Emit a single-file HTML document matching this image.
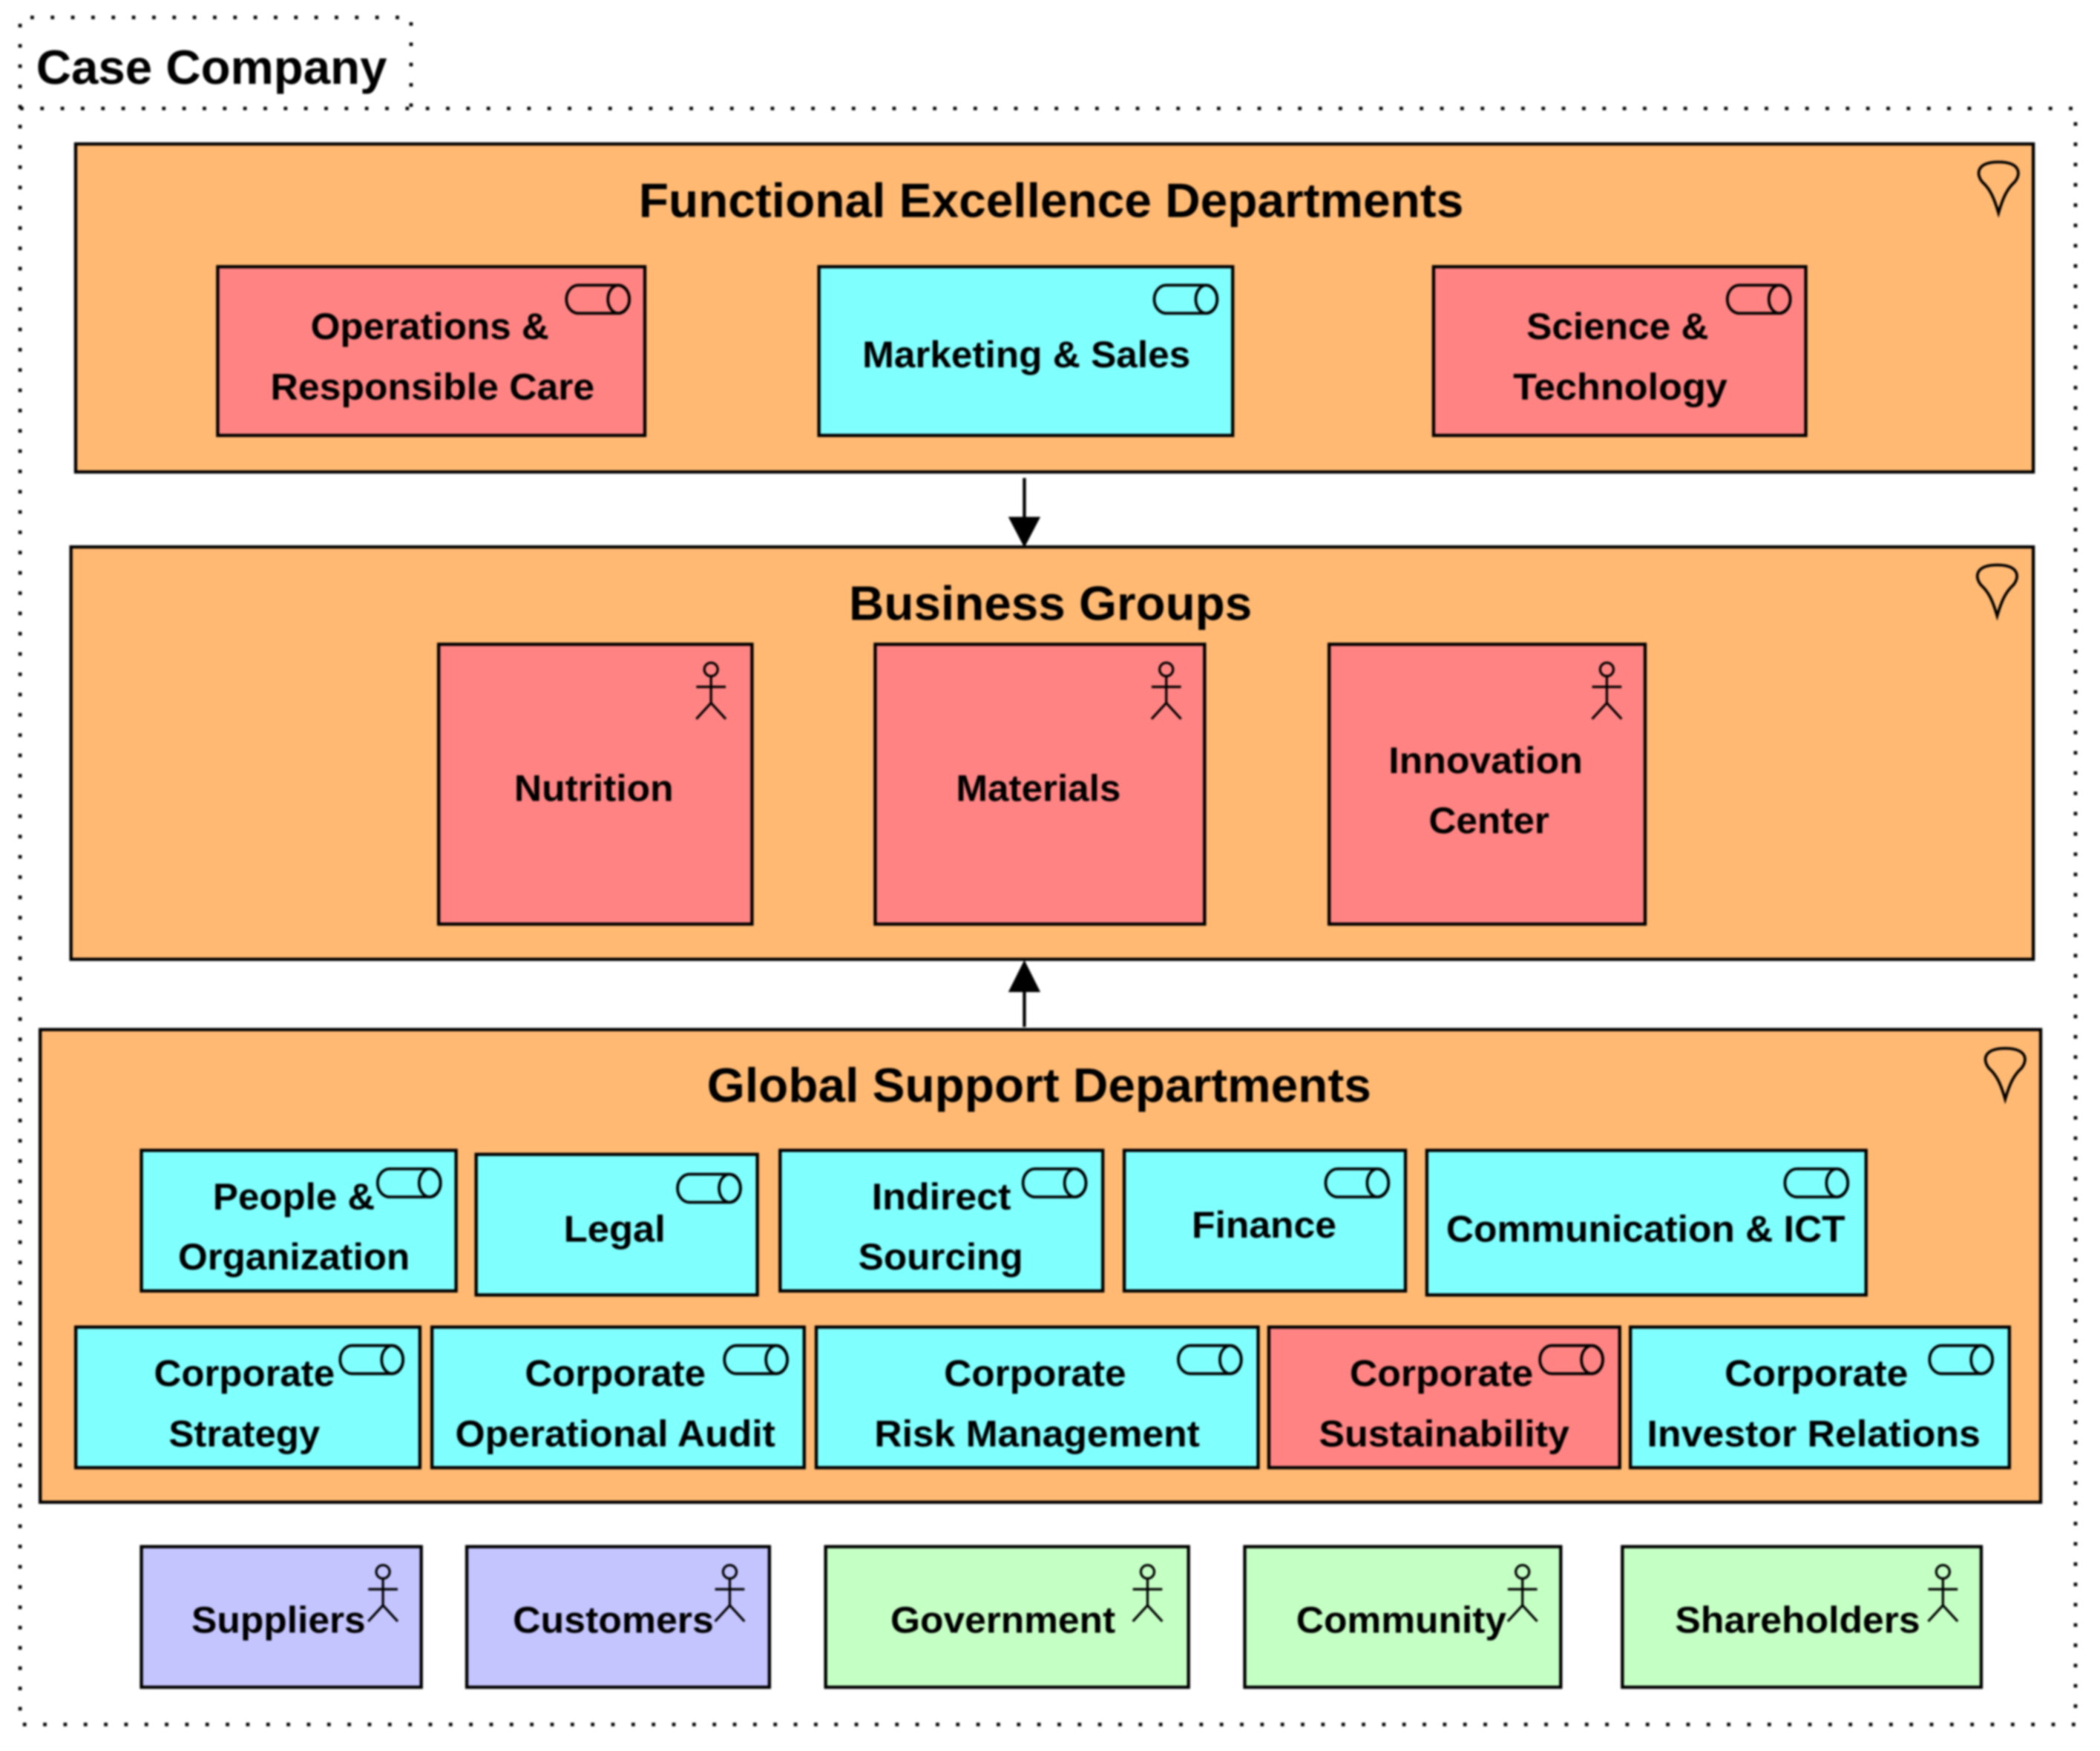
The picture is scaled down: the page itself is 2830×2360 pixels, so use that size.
<!DOCTYPE html>
<html><head><meta charset="utf-8"><style>
html,body{margin:0;padding:0;background:#fff}
svg{display:block;filter:blur(1.2px)}
text{font-family:"Liberation Sans",sans-serif;font-weight:bold;fill:#000;font-size:28px;transform:translateY(-.7px)}
.t{font-size:36px;transform:none}
.o{fill:#FFB973}.r{fill:#FF8383}.c{fill:#80FFFF}.p{fill:#C4C4FF}.g{fill:#C4FFC4}
rect.o,rect.r,rect.c,rect.p,rect.g{stroke:#000;stroke-width:2.4}
rect.r,rect.c,rect.p,rect.g{transform:translate(.6px,.2px)}
.i{fill:none;stroke:#000;stroke-width:2.1}
.d{fill:none;stroke:#000;stroke-width:2.6;stroke-dasharray:2.6 12.55}
</style></head><body>
<svg xmlns="http://www.w3.org/2000/svg" width="2830" height="2360" viewBox="0 0 1568.3 1307.8">
<defs>
<g id="cyl"><path class="i" d="M10 0H39A9 10.500 0 0 1 39 21H10A9 10.500 0 0 1 10 0Z"/><ellipse class="i" cx="40" cy="10.500" rx="8" ry="10.500"/></g>
<g id="pin"><path class="i" d="M15.500 39C12 27 9 21 3.500 16C-1.500 10 -1 1 15.500 1C32 1 32.500 10 27.500 16C22 21 19 27 15.500 39Z"/></g>
<g id="act" transform="translate(0,-1)"><circle class="i" cx="0" cy="6" r="5" style="stroke-width:1.8"/><path class="i" style="stroke-width:1.8" d="M0 11V31M-11 19H11M-11 43L0 31L11 43"/></g>
</defs>
<rect width="1569" height="1308" fill="#fff"/>
<path class="d" d="M15 81V13H307V81"/>
<path class="d" d="M15 81H1550V1288H15Z"/>
<text class="t" x="27" y="62.500" textLength="262" lengthAdjust="spacingAndGlyphs">Case Company</text>

<rect class="o" x="56.500" y="107.500" width="1462" height="245"/>
<rect class="o" x="53" y="408.500" width="1465.500" height="308"/>
<rect class="o" x="30" y="769" width="1494" height="353"/>

<path d="M765 357V387" stroke="#000" stroke-width="2.400"/>
<path d="M753 386H777L765 409Z"/>
<path d="M765 767V740" stroke="#000" stroke-width="2.400"/>
<path d="M753 741H777L765 717Z"/>

<use href="#pin" x="1477" y="120"/>
<use href="#pin" x="1476" y="421"/>
<use href="#pin" x="1482" y="782"/>

<text class="t" x="477" y="162" textLength="616" lengthAdjust="spacingAndGlyphs">Functional Excellence Departments</text>
<text class="t" x="634" y="463" textLength="301" lengthAdjust="spacingAndGlyphs">Business Groups</text>
<text class="t" x="528" y="823" textLength="496" lengthAdjust="spacingAndGlyphs">Global Support Departments</text>

<rect class="r" x="162" y="199" width="319" height="126"/>
<rect class="c" x="611" y="199" width="309" height="126"/>
<rect class="r" x="1070" y="199" width="278" height="126"/>
<use href="#cyl" x="422" y="213"/><use href="#cyl" x="861" y="213"/><use href="#cyl" x="1289" y="213"/>
<text x="232" y="254" textLength="178" lengthAdjust="spacingAndGlyphs">Operations &amp;</text>
<text x="202" y="299" textLength="242" lengthAdjust="spacingAndGlyphs">Responsible Care</text>
<text x="644" y="275" textLength="245" lengthAdjust="spacingAndGlyphs">Marketing &amp; Sales</text>
<text x="1140" y="254" textLength="136" lengthAdjust="spacingAndGlyphs">Science &amp;</text>
<text x="1130" y="299" textLength="160" lengthAdjust="spacingAndGlyphs">Technology</text>

<rect class="r" x="327" y="481" width="234" height="209"/>
<rect class="r" x="653" y="481" width="246" height="209"/>
<rect class="r" x="992" y="481" width="236" height="209"/>
<use href="#act" x="531" y="495"/><use href="#act" x="871" y="495"/><use href="#act" x="1200" y="495"/>
<text x="384" y="599" textLength="119" lengthAdjust="spacingAndGlyphs">Nutrition</text>
<text x="714" y="599" textLength="123" lengthAdjust="spacingAndGlyphs">Materials</text>
<text x="1037" y="578" textLength="145" lengthAdjust="spacingAndGlyphs">Innovation</text>
<text x="1067" y="623" textLength="90" lengthAdjust="spacingAndGlyphs">Center</text>

<rect class="c" x="105" y="859" width="235" height="105"/>
<rect class="c" x="355" y="862" width="210" height="105"/>
<rect class="c" x="582" y="859" width="241" height="105"/>
<rect class="c" x="839" y="859" width="210" height="105"/>
<rect class="c" x="1065" y="859" width="328" height="108"/>
<use href="#cyl" x="281" y="873"/><use href="#cyl" x="505" y="877"/><use href="#cyl" x="763" y="873"/><use href="#cyl" x="989" y="873"/><use href="#cyl" x="1332" y="873"/>
<text x="159" y="904" textLength="121" lengthAdjust="spacingAndGlyphs">People &amp;</text>
<text x="133" y="949" textLength="173" lengthAdjust="spacingAndGlyphs">Organization</text>
<text x="421" y="928" textLength="76" lengthAdjust="spacingAndGlyphs">Legal</text>
<text x="651" y="904" textLength="104" lengthAdjust="spacingAndGlyphs">Indirect</text>
<text x="641" y="949" textLength="123" lengthAdjust="spacingAndGlyphs">Sourcing</text>
<text x="890" y="925" textLength="108" lengthAdjust="spacingAndGlyphs">Finance</text>
<text x="1080" y="928" textLength="298" lengthAdjust="spacingAndGlyphs">Communication &amp; ICT</text>

<rect class="c" x="56" y="991" width="257" height="105"/>
<rect class="c" x="322" y="991" width="278" height="105"/>
<rect class="c" x="609" y="991" width="330" height="105"/>
<rect class="r" x="947" y="991" width="262" height="105"/>
<rect class="c" x="1217" y="991" width="283" height="105"/>
<use href="#cyl" x="253" y="1005"/><use href="#cyl" x="540" y="1005"/><use href="#cyl" x="879" y="1005"/><use href="#cyl" x="1149" y="1005"/><use href="#cyl" x="1440" y="1005"/>
<text x="115" y="1036" textLength="135" lengthAdjust="spacingAndGlyphs">Corporate</text>
<text x="126" y="1081" textLength="113" lengthAdjust="spacingAndGlyphs">Strategy</text>
<text x="392" y="1036" textLength="135" lengthAdjust="spacingAndGlyphs">Corporate</text>
<text x="340" y="1081" textLength="239" lengthAdjust="spacingAndGlyphs">Operational Audit</text>
<text x="705" y="1036" textLength="136" lengthAdjust="spacingAndGlyphs">Corporate</text>
<text x="653" y="1081" textLength="243" lengthAdjust="spacingAndGlyphs">Risk Management</text>
<text x="1008" y="1036" textLength="137" lengthAdjust="spacingAndGlyphs">Corporate</text>
<text x="985" y="1081" textLength="187" lengthAdjust="spacingAndGlyphs">Sustainability</text>
<text x="1288" y="1036" textLength="137" lengthAdjust="spacingAndGlyphs">Corporate</text>
<text x="1230" y="1081" textLength="249" lengthAdjust="spacingAndGlyphs">Investor Relations</text>

<rect class="p" x="105" y="1155" width="209" height="105"/>
<rect class="p" x="348" y="1155" width="226" height="105"/>
<rect class="g" x="616" y="1155" width="271" height="105"/>
<rect class="g" x="929" y="1155" width="236" height="105"/>
<rect class="g" x="1211" y="1155" width="268" height="105"/>
<use href="#act" x="286" y="1169"/><use href="#act" x="545" y="1169"/><use href="#act" x="857" y="1169"/><use href="#act" x="1137" y="1169"/><use href="#act" x="1451" y="1169"/>
<text x="143" y="1220" textLength="130" lengthAdjust="spacingAndGlyphs">Suppliers</text>
<text x="383" y="1220" textLength="150" lengthAdjust="spacingAndGlyphs">Customers</text>
<text x="665" y="1220" textLength="168" lengthAdjust="spacingAndGlyphs">Government</text>
<text x="968" y="1220" textLength="157" lengthAdjust="spacingAndGlyphs">Community</text>
<text x="1251" y="1220" textLength="183" lengthAdjust="spacingAndGlyphs">Shareholders</text>
</svg>
</body></html>
